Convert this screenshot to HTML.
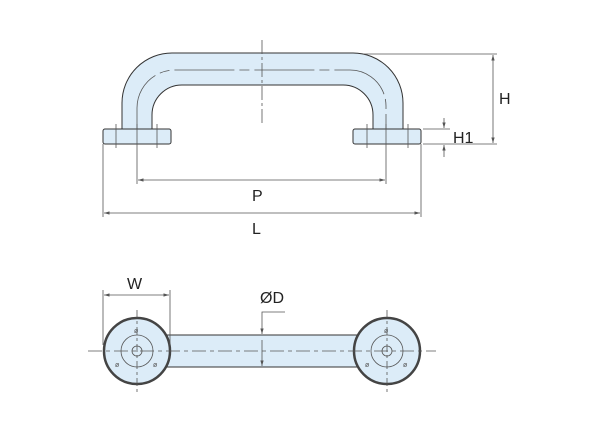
<!DOCTYPE html>
<html><head><style>html,body{margin:0;padding:0;background:#fff}</style></head><body>
<svg width="600" height="429" viewBox="0 0 600 429" xmlns="http://www.w3.org/2000/svg" font-family="Liberation Sans, sans-serif">
<defs>
<marker id="a" viewBox="0 0 10 10" refX="10" refY="5" markerWidth="7" markerHeight="7" orient="auto-start-reverse"><path d="M0,2L10,5L0,8z" fill="#555"/></marker>
</defs>
<g stroke="#555" stroke-width="0.8" fill="none">
<!-- handle side view -->
<path d="M122,129 V103 A50,50 0 0 1 172,53 H353 A50,50 0 0 1 403,103 V129 H373 V115 A30,30 0 0 0 343,85 H182 A30,30 0 0 0 152,115 V129 Z" fill="#dcecf8" stroke="#333" stroke-width="1"/>
<rect x="103" y="129" width="68" height="15" rx="2" fill="#dcecf8" stroke="#333" stroke-width="1"/>
<rect x="353" y="129" width="68" height="15" rx="2" fill="#dcecf8" stroke="#333" stroke-width="1"/>
<path d="M137,129 V108 A38,38 0 0 1 175,70 H350 A36,36 0 0 1 386,106 V129" stroke-dasharray="60,5,10,5"/>
<line x1="262" y1="40" x2="262" y2="125" stroke-dasharray="14,3,3,3"/>
<line x1="116" y1="124" x2="116" y2="148"/><line x1="157" y1="124" x2="157" y2="148"/>
<line x1="367" y1="124" x2="367" y2="148"/><line x1="408" y1="124" x2="408" y2="148"/>
<line x1="137" y1="124" x2="137" y2="184"/><line x1="386" y1="124" x2="386" y2="184"/>
<line x1="103" y1="144" x2="103" y2="217"/><line x1="421" y1="144" x2="421" y2="217"/>
<line x1="138" y1="180" x2="385" y2="180" marker-start="url(#a)" marker-end="url(#a)"/>
<line x1="104" y1="213" x2="420" y2="213" marker-start="url(#a)" marker-end="url(#a)"/>
<line x1="363" y1="54" x2="497" y2="54"/><line x1="423" y1="144" x2="497" y2="144"/>
<line x1="493" y1="55" x2="493" y2="143" marker-start="url(#a)" marker-end="url(#a)"/>
<line x1="423" y1="129" x2="450" y2="129"/>
<line x1="444" y1="118" x2="444" y2="128" marker-end="url(#a)"/>
<line x1="444" y1="157" x2="444" y2="145" marker-end="url(#a)"/>
<!-- bottom view -->
<rect x="165" y="335" width="200" height="32" fill="#dcecf8" stroke="#333" stroke-width="1"/>
<circle cx="137" cy="351" r="33" fill="#dcecf8" stroke="#444" stroke-width="2.5"/>
<circle cx="387" cy="351" r="33" fill="#dcecf8" stroke="#444" stroke-width="2.5"/>
<circle cx="137" cy="351" r="16"/><circle cx="137" cy="351" r="5"/>
<circle cx="387" cy="351" r="16"/><circle cx="387" cy="351" r="5"/>
<line x1="88" y1="351" x2="436" y2="351" stroke-dasharray="14,4,4,4"/>
<line x1="137" y1="310" x2="137" y2="395" stroke-dasharray="8,3,3,3"/>
<line x1="387" y1="310" x2="387" y2="395" stroke-dasharray="8,3,3,3"/>
<line x1="103" y1="290" x2="103" y2="345"/><line x1="170" y1="290" x2="170" y2="345"/>
<line x1="104" y1="295" x2="169" y2="295" marker-start="url(#a)" marker-end="url(#a)"/>
<polyline points="285,312 262,312 262,334" marker-end="url(#a)"/>
<line x1="262" y1="340" x2="262" y2="366" marker-end="url(#a)"/>
</g>
<g font-size="7" fill="#555">
<text x="134" y="333">ø</text><text x="115" y="367">ø</text><text x="153" y="367">ø</text>
<text x="384" y="333">ø</text><text x="365" y="367">ø</text><text x="403" y="367">ø</text>
</g>
<g fill="#222" font-size="16">
<text x="252" y="201">P</text>
<text x="252" y="234">L</text>
<text x="499" y="104">H</text>
<text x="453" y="143">H1</text>
<text x="127" y="289">W</text>
<text x="260" y="303">ØD</text>
</g>
</svg>
</body></html>
